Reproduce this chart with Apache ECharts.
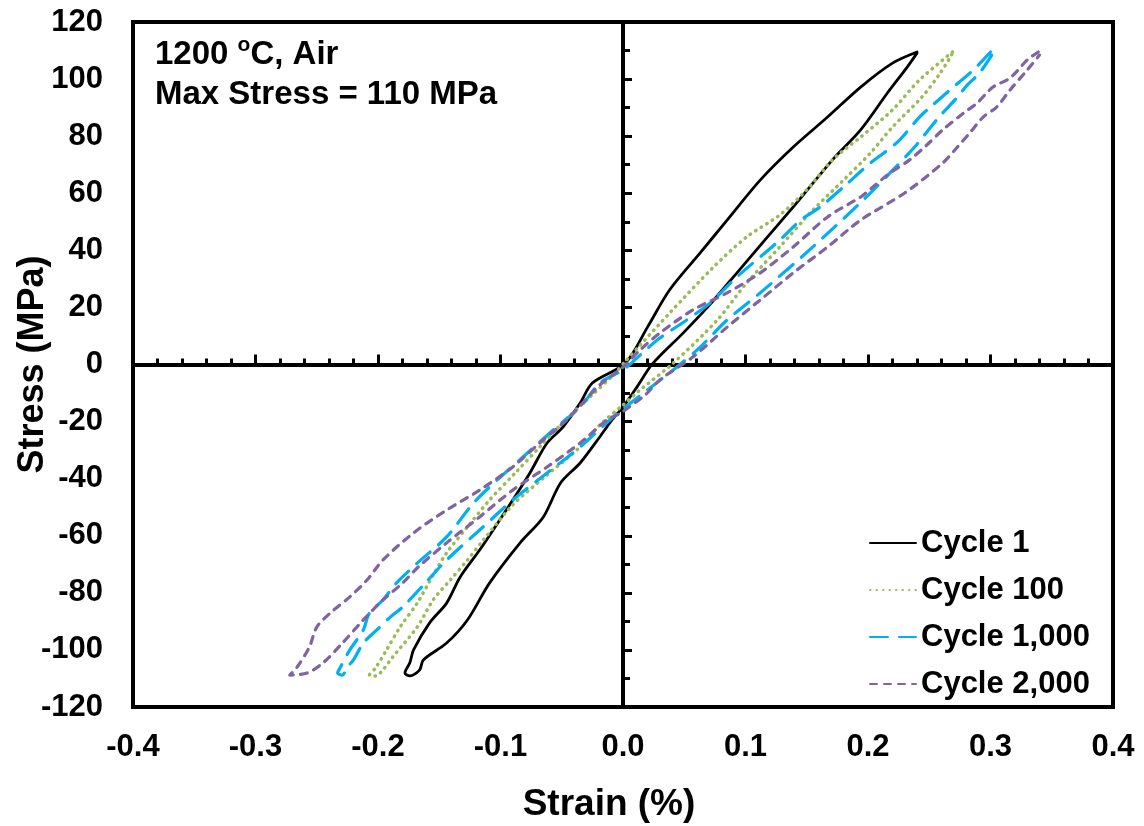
<!DOCTYPE html>
<html>
<head>
<meta charset="utf-8">
<title>Stress-Strain Hysteresis</title>
<script src="https://cdn.jsdelivr.net/npm/echarts@6/dist/echarts.min.js"></script>
<style>
  html, body { margin: 0; padding: 0; background: #fff; }
  #chart { width: 1144px; height: 826px; }
</style>
</head>
<body>
<div id="chart"></div>
<script>
// series names
var names = ['Cycle 1', 'Cycle 100', 'Cycle 1,000', 'Cycle 2,000'];

// Cycle 1 (strain %, stress MPa), one loop: upper branch down, then lower branch back up
var strain1 = [0.240, 0.220, 0.194, 0.167, 0.139, 0.112, 0.085, 0.063, 0.038, 0.020,
  0.002, -0.025, -0.035, -0.049, -0.062, -0.076, -0.090, -0.106, -0.117, -0.133,
  -0.144, -0.158, -0.171, -0.174, -0.178,
  -0.174, -0.166, -0.163, -0.144, -0.127, -0.109, -0.084, -0.065, -0.051, -0.035,
  -0.019, -0.009, 0.000, 0.012, 0.024, 0.049, 0.069, 0.093, 0.118, 0.139,
  0.171, 0.194, 0.216, 0.232, 0.240];
var stress1 = [109.5, 105.6, 97.2, 86.7, 76.2, 64.6, 50.6, 39.1, 26.1, 13.1,
  0.5, -6.5, -13.5, -21.9, -27.5, -38.0, -47.5, -58.0, -65.0, -74.5,
  -83.6, -90.6, -100.0, -104.5, -108.1,
  -109.1, -107.0, -103.5, -97.6, -89.5, -76.6, -62.5, -53.4, -41.5, -34.5,
  -25.4, -19.4, -14.9, -7.5, 0.2, 11.0, 20.1, 32.1, 44.7, 55.2,
  71.7, 82.2, 95.2, 104.2, 109.1];

// Cycle 100
var strain100 = [0.269, 0.242, 0.220, 0.194, 0.171, 0.150, 0.128, 0.101, 0.074, 0.038,
  0.014, 0.003, -0.008, -0.027, -0.047, -0.068, -0.088, -0.109, -0.127, -0.144,
  -0.155, -0.168, -0.182, -0.193, -0.202, -0.207,
  -0.202, -0.196, -0.188, -0.168, -0.155, -0.141, -0.127, -0.114, -0.090, -0.062,
  -0.035, -0.019, 0.000, 0.014, 0.041, 0.077, 0.101, 0.128, 0.155, 0.180,
  0.202, 0.220, 0.244, 0.259, 0.269];
var stress100 = [109.5, 99.7, 89.2, 79.7, 71.7, 61.2, 52.4, 44.7, 34.2, 18.0,
  6.8, 1.6, -3.7, -11.4, -19.4, -28.9, -38.0, -47.5, -56.9, -66.0,
  -73.8, -83.6, -92.0, -100.0, -106.3, -108.8,
  -109.1, -107.0, -102.5, -92.0, -82.5, -75.5, -68.5, -61.5, -49.2, -38.7,
  -28.9, -21.2, -14.2, -8.9, 0.5, 15.6, 28.6, 41.2, 54.1, 64.6,
  74.1, 83.2, 93.7, 102.1, 109.1];

// Cycle 1,000
var strain1000 = [0.300, 0.286, 0.265, 0.251, 0.242, 0.224, 0.202, 0.180, 0.161, 0.145,
  0.128, 0.093, 0.071, 0.052, 0.028, 0.014, 0.000, -0.019, -0.035, -0.057,
  -0.078, -0.100, -0.122, -0.144, -0.168, -0.185, -0.196, -0.207, -0.212, -0.223,
  -0.231, -0.233,
  -0.229, -0.225, -0.220, -0.212, -0.201, -0.190, -0.180, -0.163, -0.144, -0.117,
  -0.090, -0.062, -0.035, -0.008, 0.020, 0.044, 0.063, 0.085, 0.112, 0.155,
  0.196, 0.218, 0.238, 0.256, 0.273, 0.281, 0.291, 0.301];
var stress1000 = [109.5, 103.2, 95.5, 90.2, 86.7, 77.9, 70.6, 62.2, 55.2, 50.6,
  43.6, 30.7, 21.5, 15.6, 8.6, 3.3, -1.9, -6.5, -14.9, -22.9,
  -31.0, -39.4, -48.5, -60.4, -69.6, -76.6, -82.5, -87.1, -93.0, -100.0,
  -106.3, -108.1,
  -108.8, -106.0, -103.5, -97.6, -93.0, -88.5, -85.0, -77.3, -68.5, -58.0,
  -47.5, -38.0, -28.9, -18.4, -8.9, -0.9, 6.1, 15.6, 25.1, 41.2,
  57.6, 67.1, 76.2, 85.7, 93.7, 97.9, 102.1, 108.4];

// Cycle 2,000
var strain2000 = [0.339, 0.330, 0.316, 0.302, 0.289, 0.278, 0.261, 0.248, 0.234, 0.218,
  0.204, 0.194, 0.167, 0.139, 0.112, 0.085, 0.057, 0.030, 0.014, 0.000,
  -0.019, -0.046, -0.068, -0.090, -0.117, -0.144, -0.171, -0.196, -0.209, -0.223,
  -0.239, -0.250, -0.256, -0.266, -0.272,
  -0.258, -0.245, -0.229, -0.212, -0.196, -0.180, -0.167, -0.144, -0.117, -0.090,
  -0.062, -0.035, -0.013, -0.002, 0.018, 0.030, 0.057, 0.085, 0.112, 0.139,
  0.167, 0.194, 0.230, 0.261, 0.273, 0.283, 0.294, 0.305, 0.316, 0.330,
  0.340];
var stress2000 = [109.5, 106.7, 100.4, 97.2, 91.6, 88.1, 82.2, 76.9, 71.7, 67.1,
  62.2, 58.7, 51.7, 41.2, 32.1, 25.1, 19.1, 11.0, 5.1, -0.9,
  -7.2, -19.4, -27.5, -35.9, -44.0, -51.0, -59.0, -68.5, -75.5, -81.4,
  -87.1, -92.0, -99.0, -106.0, -108.8,
  -108.1, -104.6, -97.6, -89.5, -82.5, -76.6, -70.9, -62.5, -53.4, -44.0,
  -35.9, -27.5, -19.4, -17.0, -10.7, -5.4, 2.6, 13.1, 22.6, 32.1,
  41.2, 50.6, 60.1, 70.6, 76.2, 81.1, 86.7, 90.2, 96.2, 103.2,
  108.4];

var font = '"Liberation Sans", Arial, sans-serif';

function pairs(xs, ys) {
  var out = [];
  for (var i = 0; i < xs.length; i++) {
    out.push([xs[i], ys[i]]);
  }
  return out;
}

function loop(name, xs, ys, color, type, width) {
  return {
    name: name,
    type: 'line',
    xAxisIndex: 0,
    yAxisIndex: 0,
    data: pairs(xs, ys),
    symbol: 'none',
    showSymbol: false,
    smooth: 0.3,
    lineStyle: { color: color, width: width, type: type, cap: 'round', join: 'round' },
    itemStyle: { color: color }
  };
}

var chart = echarts.init(document.getElementById('chart'), null, { renderer: 'canvas' });

var option = {
  animation: false,
  backgroundColor: '#fff',
  textStyle: { fontFamily: font },
  title: {
    left: 150,
    top: 30,
    text: '1200 {sup|o}C, Air\nMax Stress = 110 MPa',
    textStyle: {
      fontFamily: font, fontSize: 33, fontWeight: 'bold', color: '#000', lineHeight: 40,
      rich: {
        sup: { fontFamily: font, fontSize: 21, fontWeight: 'bold', color: '#000', verticalAlign: 'top', lineHeight: 32 }
      }
    }
  },
  legend: {
    orient: 'vertical',
    left: 869,
    top: 525,
    padding: 0,
    itemWidth: 46,
    itemHeight: 14,
    itemGap: 11,
    data: names,
    // hide the dot that line series put in the middle of the icon
    itemStyle: { opacity: 0, borderWidth: 0, color: 'rgba(0,0,0,0)' },
    textStyle: { fontFamily: font, fontSize: 31, fontWeight: 'bold', color: '#000', lineHeight: 36 }
  },
  grid: {
    left: 133, right: 31, top: 22, bottom: 119,
    show: true, borderColor: '#000', borderWidth: 4,
    outerBoundsMode: 'none'
  },
  xAxis: [{
    // axis through zero with ticks
    type: 'value', min: -0.4, max: 0.4, interval: 0.1, position: 'bottom',
    axisLine: { show: true, onZero: true, onZeroAxisIndex: 0, lineStyle: { color: '#000', width: 4 } },
    axisTick: { show: true, inside: true, length: 10, lineStyle: { color: '#000', width: 3 } },
    minorTick: { show: true, splitNumber: 5, length: 6, lineStyle: { color: '#000', width: 3 } },
    axisLabel: { show: false },
    splitLine: { show: false }
  }, {
    // labels along the bottom edge
    type: 'value', min: -0.4, max: 0.4, interval: 0.1, position: 'bottom',
    axisLine: { show: false, onZero: false },
    axisTick: { show: false },
    splitLine: { show: false },
    axisLabel: {
      margin: 25, fontFamily: font, fontSize: 31, fontWeight: 'bold', color: '#000',
      formatter: function (v) { return v.toFixed(1); }
    },
    name: 'Strain (%)',
    nameLocation: 'middle',
    nameGap: 79,
    nameMoveOverlap: false,
    nameTextStyle: { fontFamily: font, fontSize: 37, fontWeight: 'bold', color: '#000', padding: [0, 28, 0, 0] }
  }],
  yAxis: [{
    type: 'value', min: -120, max: 120, interval: 20, position: 'left',
    axisLine: { show: true, onZero: true, onZeroAxisIndex: 0, lineStyle: { color: '#000', width: 4 } },
    axisTick: { show: true, inside: true, length: 9, lineStyle: { color: '#000', width: 3 } },
    minorTick: { show: true, splitNumber: 2, length: 7, lineStyle: { color: '#000', width: 3 } },
    axisLabel: { show: false },
    splitLine: { show: false }
  }, {
    type: 'value', min: -120, max: 120, interval: 20, position: 'left',
    axisLine: { show: false, onZero: false },
    axisTick: { show: false },
    splitLine: { show: false },
    axisLabel: { margin: 30, fontFamily: font, fontSize: 31, fontWeight: 'bold', color: '#000' },
    name: 'Stress (MPa)',
    nameLocation: 'middle',
    nameGap: 82,
    nameMoveOverlap: false,
    nameTextStyle: { fontFamily: font, fontSize: 36, fontWeight: 'bold', color: '#000' }
  }],
  series: [
    loop(names[0], strain1, stress1, '#000000', 'solid', 2.8),
    loop(names[1], strain100, stress100, '#9BBB59', [0.5, 6], 3.5),
    loop(names[2], strain1000, stress1000, '#00B0F0', [18, 11], 3.2),
    loop(names[3], strain2000, stress2000, '#8064A2', [7, 7], 3.2)
  ]
};

chart.setOption(option);
</script>
</body>
</html>
